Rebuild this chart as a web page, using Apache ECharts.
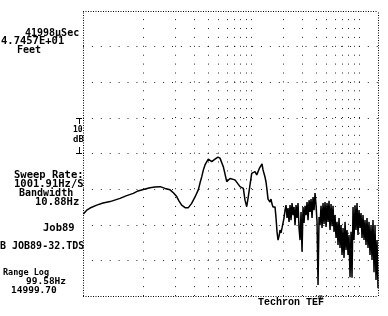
<!DOCTYPE html>
<html>
<head>
<meta charset="utf-8">
<script src="https://cdn.jsdelivr.net/npm/echarts@6/dist/echarts.min.js"></script>
<style>
html,body{margin:0;padding:0;background:#fff;}
#chart{width:388px;height:316px;}
</style>
</head>
<body>
<div id="chart"></div>
<script>
// Frequency response (Hz, dB)
const freqHz = [
  28, 30.1, 32.3, 37.3, 42.6, 49.5, 61.2, 69.6, 81.3, 89.9, 100.6, 116, 129, 144, 160, 178, 192, 205, 215, 228,
  245, 263, 282, 303, 325, 337, 350, 362, 375, 402, 433, 464, 494, 516, 554, 596, 639, 711, 791, 849,
  880, 912, 944, 979, 1015, 1089, 1130, 1194, 1265,
  1292, 1320, 1348, 1377, 1407, 1437, 1468, 1500, 1532, 1565, 1599, 1634, 1669, 1705, 1742, 1779, 1818, 1857, 1897, 1938,
  1980, 2022, 2066, 2110, 2156, 2202, 2250, 2298, 2348, 2398, 2450, 2503, 2557, 2612, 2668, 2726, 2785, 2845, 2906, 2969,
  3033, 3098, 3165, 3233, 3303, 3374, 3447, 3521, 3597, 3674, 3753, 3834, 3917, 4001, 4088, 4176, 4266, 4358, 4451, 4547,
  4645, 4745, 4848, 4952, 5059, 5168, 5279, 5393, 5509, 5628, 5749, 5873, 6000, 6129, 6261, 6396, 6533, 6674, 6818, 6965,
  7115, 7268, 7425, 7585, 7748, 7915, 8085, 8260, 8438, 8619, 8805, 8995, 9189, 9387, 9589, 9795, 10006, 10222, 10442, 10667,
  10897, 11132, 11372, 11617, 11867, 12123, 12384, 12651, 12923, 13202, 13486, 13777, 14074, 14377, 14687, 15000
];
const levelDb = [
  23.0, 24.1, 24.7, 25.5, 26.1, 26.5, 27.4, 28.1, 28.8, 29.5, 29.9, 30.4, 30.6, 30.7, 30.2, 29.8, 28.9, 27.9, 26.7, 25.5,
  24.8, 24.8, 26.0, 27.8, 29.8, 31.7, 33.5, 35.4, 36.8, 38.4, 37.7, 38.4, 39.0, 38.7, 36.3, 32.1, 33.0, 32.6, 30.7, 30.2,
  26.9, 25.1, 27.9, 31.2, 34.4, 34.9, 34.0, 35.8, 37.1,
  35.4, 35.9, 33.4, 32.0, 29.8, 27.2, 26.7, 26.4, 27.2, 25.8, 25.0, 25.5, 25.0, 21.9, 18.0, 15.7, 16.8, 18.5, 17.7, 19.1,
  19.6, 21.9, 24.1, 25.5, 21.9, 24.7, 20.8, 25.5, 21.3, 26.1, 22.7, 25.0, 19.9, 25.5, 21.9, 26.1, 19.1, 15.7, 23.6, 12.4,
  25.0, 20.5, 25.3, 22.7, 26.4, 21.3, 26.9, 23.6, 27.2, 21.9, 27.8, 24.1, 28.9, 25.5, 20.8, 3.1, 22.2, 19.9, 25.3, 19.1,
  26.1, 20.2, 26.4, 19.4, 26.1, 20.8, 26.7, 18.5, 25.8, 19.6, 25.3, 18.0, 22.7, 16.3, 20.8, 14.3, 21.9, 13.5, 19.9, 11.5,
  19.1, 10.7, 20.8, 12.9, 18.5, 11.5, 17.1, 5.3, 18.0, 5.1, 25.0, 15.7, 25.5, 18.5, 26.1, 17.1, 24.1, 19.1, 23.3, 16.3,
  22.7, 15.7, 21.3, 14.3, 21.9, 13.5, 20.8, 11.5, 19.9, 10.1, 21.3, 6.7, 19.9, 4.5, 15.7, 2.2
];

// Axis extents and grid
const freqMin = 27.8;
const freqMax = 15000;
const dbMin = 0;
const dbMax = 80;
const gridFreqs = [100, 200, 300, 400, 500, 600, 700, 800, 900, 1000, 2000, 3000, 4000, 5000, 6000, 7000, 8000, 9000, 10000];
const gridLevels = [10, 20, 30, 40, 50, 60, 70];

// Side annotations
const noteTexts = ['41998\u00b5Sec', '4.7457E+01', 'Feet', 'Sweep Rate:', '1001.91Hz/S', 'Bandwidth', '10.88Hz', 'Job89', 'B JOB89-32.TDS', 'Range Log', '99.58Hz', '14999.70'];
const noteX = [25, 1, 17, 14, 14, 19, 35, 43, 0, 3, 26, 11];
const noteY = [33, 41.5, 50.5, 175, 184, 193, 202, 228.5, 246, 272.5, 282, 291];
const noteSize = [10, 10.5, 10, 10.5, 10.5, 10, 10.5, 10.5, 10, 8.5, 9.5, 9.5];

const chart = echarts.init(document.getElementById('chart'), null, {renderer: 'canvas'});

const textFont = (s) => 'bold ' + s + 'px "DejaVu Sans Mono"';
const graphics = noteTexts.map((t, i) => ({
  type: 'text',
  style: {text: t, x: noteX[i], y: noteY[i], font: textFont(noteSize[i]), fill: '#000', align: 'left', verticalAlign: 'middle'}
}));
graphics.push(
  {type: 'text', style: {text: '10', x: 73, y: 130, font: textFont(8), fill: '#000', align: 'left', verticalAlign: 'middle'}},
  {type: 'text', style: {text: 'dB', x: 73, y: 140, font: textFont(9), fill: '#000', align: 'left', verticalAlign: 'middle'}},
  {type: 'line', shape: {x1: 76, y1: 118.5, x2: 82, y2: 118.5}, style: {stroke: '#000', lineWidth: 1}},
  {type: 'line', shape: {x1: 79.5, y1: 118.5, x2: 79.5, y2: 124}, style: {stroke: '#000', lineWidth: 1}},
  {type: 'line', shape: {x1: 79.5, y1: 147, x2: 79.5, y2: 153.5}, style: {stroke: '#000', lineWidth: 1}},
  {type: 'line', shape: {x1: 76, y1: 153.5, x2: 82, y2: 153.5}, style: {stroke: '#000', lineWidth: 1}},
  {type: 'text', style: {text: 'Techron TEF', x: 258, y: 302, font: 'bold 10px "Liberation Mono"', fill: '#000', align: 'left', verticalAlign: 'middle'}},
  {type: 'text', style: {text: '\u00ae', x: 317, y: 298, font: 'bold 7px "DejaVu Sans"', fill: '#000', align: 'left', verticalAlign: 'middle'}}
);

const option = {
  animation: false,
  backgroundColor: '#fff',
  grid: {left: 83, right: 10, top: 11, bottom: 20, containLabel: false},
  xAxis: {
    type: 'log', logBase: 10, min: freqMin, max: freqMax,
    axisLine: {show: false}, axisTick: {show: false}, axisLabel: {show: false}, splitLine: {show: false}
  },
  yAxis: {
    type: 'value', min: dbMin, max: dbMax, interval: 10,
    axisLine: {show: false}, axisTick: {show: false}, axisLabel: {show: false}, splitLine: {show: false}
  },
  graphic: graphics,
  series: [
    {
      type: 'line', data: [], silent: true,
      markLine: {
        silent: true, symbol: 'none', label: {show: false},
        lineStyle: {color: '#000', width: 1, type: [1, 7.9], opacity: 0.85},
        data: gridFreqs.map(f => ({xAxis: f})).concat(gridLevels.map(v => ({yAxis: v})))
      }
    },
    {
      type: 'line', data: [], silent: true,
      markLine: {
        silent: true, symbol: 'none', label: {show: false},
        lineStyle: {color: '#000', width: 1, type: [1, 1.5], opacity: 1},
        data: [{xAxis: freqMin}, {xAxis: freqMax}, {yAxis: dbMin}, {yAxis: dbMax}]
      }
    },
    {
      type: 'line', z: 5,
      data: freqHz.map((f, i) => [f, levelDb[i]]),
      showSymbol: false, symbol: 'none',
      lineStyle: {color: '#000', width: 1.5},
      silent: true
    }
  ]
};
chart.setOption(option);
</script>
</body>
</html>
